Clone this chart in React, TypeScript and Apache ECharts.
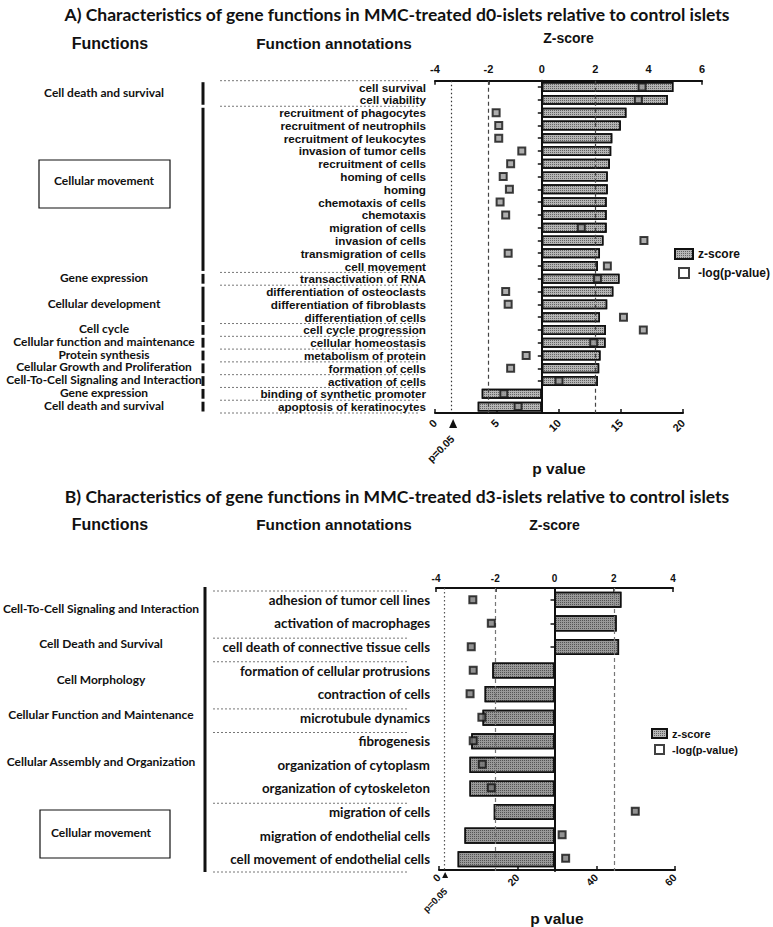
import React, { useEffect, useRef } from 'react';
import * as echarts from 'echarts';

// ---------- Data ----------
const A_CATEGORIES = [
  'cell survival', 'cell viability', 'recruitment of phagocytes', 'recruitment of neutrophils',
  'recruitment of leukocytes', 'invasion of tumor cells', 'recruitment of cells', 'homing of cells',
  'homing', 'chemotaxis of cells', 'chemotaxis', 'migration of cells', 'invasion of cells',
  'transmigration of cells', 'cell movement', 'transactivation of RNA', 'differentiation of osteoclasts',
  'differentiation of fibroblasts', 'differentiation of cells', 'cell cycle progression',
  'cellular homeostasis', 'metabolism of protein', 'formation of cells', 'activation of cells',
  'binding of synthetic promoter', 'apoptosis of keratinocytes',
];
const A_ZSCORE = [
  4.93, 4.72, 3.17, 2.96, 2.64, 2.6, 2.55, 2.47, 2.47, 2.43, 2.43, 2.43, 2.31,
  2.18, 2.1, 2.91, 2.68, 2.45, 2.18, 2.4, 2.39, 2.2, 2.15, 2.1, -2.25, -2.4,
];
const A_LOGP = [
  16.7, 16.4, 4.93, 5.14, 5.14, 7.0, 6.1, 5.5, 6.0, 5.25, 5.7, 11.8, 16.85,
  5.9, 13.9, 13.1, 5.7, 5.9, 15.2, 16.8, 12.8, 7.35, 6.1, 10.0, 5.55, 6.7,
];
const B_CATEGORIES = [
  'adhesion of tumor cell lines', 'activation of macrophages', 'cell death of connective tissue cells',
  'formation of cellular protrusions', 'contraction of cells', 'microtubule dynamics', 'fibrogenesis',
  'organization of cytoplasm', 'organization of cytoskeleton', 'migration of cells',
  'migration of endothelial cells', 'cell movement of endothelial cells',
];
const B_ZSCORE = [2.26, 2.1, 2.18, -2.1, -2.36, -2.43, -2.81, -2.87, -2.87, -2.05, -3.04, -3.27];
const B_LOGP = [8.6, 13.3, 8.2, 8.7, 7.9, 10.9, 8.7, 11.0, 13.3, 49.9, 31.3, 32.2];

const P_THRESHOLD = 1.3; // -log10(0.05)
const Z_GUIDES = [-2, 2];

const A_GROUPS = [
  { label: 'Cell death and survival', start: 0, end: 1 },
  { label: 'Cellular movement', start: 2, end: 14, boxed: true },
  { label: 'Gene expression', start: 15, end: 15 },
  { label: 'Cellular development', start: 16, end: 18 },
  { label: 'Cell cycle', start: 19, end: 19 },
  { label: 'Cellular function and maintenance', start: 20, end: 20 },
  { label: 'Protein synthesis', start: 21, end: 21 },
  { label: 'Cellular Growth and Proliferation', start: 22, end: 22 },
  { label: 'Cell-To-Cell Signaling and Interaction', start: 23, end: 23 },
  { label: 'Gene expression', start: 24, end: 24 },
  { label: 'Cell death and survival', start: 25, end: 25 },
];
const B_GROUPS = [
  { label: 'Cell-To-Cell Signaling and Interaction', start: 0, end: 1 },
  { label: 'Cell Death and Survival', start: 2, end: 2 },
  { label: 'Cell Morphology', start: 3, end: 4 },
  { label: 'Cellular Function and Maintenance', start: 5, end: 5 },
  { label: 'Cellular Assembly and Organization', start: 6, end: 8 },
  { label: 'Cellular movement', start: 9, end: 11, boxed: true },
];

const TITLE_A = 'A) Characteristics of gene functions in MMC-treated d0-islets relative to control islets';
const TITLE_B = 'B) Characteristics of gene functions in MMC-treated d3-islets relative to control islets';

// ---------- Layout ----------
const W = 773;
const H = 927;
const A = { top: 80.7, bottom: 413, left: 435, rightZ: 702, rightP: 683 };
const B = { top: 588, bottom: 871, left: 436, rightZ: 673, leftP: 439, rightP: 675 };

const ARIAL = '"Liberation Sans", Arial, sans-serif';
const CAL = 'Lato, "Open Sans", sans-serif';

function text(
  x: number, y: number, s: string, size: number, family: string,
  weight = 'bold', align = 'center', rotation = 0, scaleX = 1,
) {
  return {
    type: 'text', x, y, rotation, scaleX,
    style: {
      text: s, fontSize: size, fontFamily: family, fontWeight: weight, fill: '#111',
      align, verticalAlign: 'middle', textAlign: align, textVerticalAlign: 'middle',
    },
  };
}

function buildGraphics() {
  const g: any[] = [];
  const dotted = { stroke: '#777', lineWidth: 1, lineDash: [2, 2] };
  // Titles
  g.push(text(397, 14, TITLE_A, 17.5, CAL));
  g.push(text(397, 496, TITLE_B, 17.5, CAL));
  // Headers
  for (const y of [43, 524]) {
    g.push(text(110, y, 'Functions', 16, ARIAL));
    g.push(text(334, y, 'Function annotations', 15.3, ARIAL));
  }
  // Panel A groups
  const aH = (A.bottom - A.top) / A_CATEGORIES.length;
  A_GROUPS.forEach((gr) => {
    const y0 = A.top + gr.start * aH;
    const y1 = A.top + (gr.end + 1) * aH;
    const cy = (y0 + y1) / 2;
    if (gr.boxed) {
      g.push({ type: 'rect', shape: { x: 39, y: 160, width: 131, height: 48 }, style: { fill: 'none', stroke: '#111', lineWidth: 1.2 } });
      g.push(text(104, 180, gr.label, 12, CAL));
    } else {
      g.push(text(104, cy - 1, gr.label, 10.5, CAL, 'bold', 'center', 0, 1.14));
    }
    g.push({ type: 'line', shape: { x1: 203, y1: y0 + 1.5, x2: 203, y2: y1 - 1.5 }, style: { stroke: '#111', lineWidth: 3 } });
    g.push({ type: 'line', shape: { x1: 220, y1: y0, x2: 418, y2: y0 }, style: dotted });
  });
  g.push({ type: 'line', shape: { x1: 220, y1: A.bottom, x2: 418, y2: A.bottom }, style: dotted });
  // Panel B groups
  const bH = (B.bottom - B.top) / B_CATEGORIES.length;
  B_GROUPS.forEach((gr) => {
    const y0 = B.top + gr.start * bH;
    const y1 = B.top + (gr.end + 1) * bH;
    const cy = (y0 + y1) / 2;
    if (gr.boxed) {
      g.push({ type: 'rect', shape: { x: 40, y: 810, width: 130, height: 48 }, style: { fill: 'none', stroke: '#111', lineWidth: 1.2 } });
    }
    g.push(text(101, cy - 3, gr.label, 12, CAL));
    g.push({ type: 'line', shape: { x1: 213, y1: y0 + 3, x2: 407, y2: y0 + 3 }, style: dotted });
  });
  g.push({ type: 'line', shape: { x1: 213, y1: B.bottom + 1, x2: 407, y2: B.bottom + 1 }, style: dotted });
  g.push({ type: 'line', shape: { x1: 205, y1: B.top - 1, x2: 205, y2: B.bottom + 1 }, style: { stroke: '#111', lineWidth: 3 } });

  // p=0.05 markers
  const axP = A.left + (P_THRESHOLD / 20) * (A.rightP - A.left);
  g.push({ type: 'polygon', shape: { points: [[axP + 2, A.bottom + 6], [axP - 2, A.bottom + 15], [axP + 6, A.bottom + 15]] }, style: { fill: '#111' } });
  g.push(text(441, 449, 'p=0.05', 10.5, ARIAL, 'bold', 'center', Math.PI / 4));
  const bxP = B.leftP + (P_THRESHOLD / 60) * (B.rightP - B.leftP);
  g.push({ type: 'polygon', shape: { points: [[bxP + 1, B.bottom + 1], [bxP - 2, B.bottom + 7], [bxP + 4, B.bottom + 7]] }, style: { fill: '#111' } });
  g.push(text(435, 900, 'p=0.05', 9.5, ARIAL, 'bold', 'center', Math.PI / 4));
  return g;
}

const decal = {
  symbol: 'rect', symbolSize: 1, color: 'rgba(0,0,0,0.45)',
  dashArrayX: [1, 1], dashArrayY: [1, 1], rotation: 0,
};
const barStyle = { color: '#b5b5b5', borderColor: '#111', borderWidth: 1.5, decal };
const markerStyle = { color: '#9a9a9a', borderColor: '#111', borderWidth: 2 };

function guideLines(values: number[], type: any, color = '#444', width = 1.2) {
  return values.map((v) => ({ xAxis: v, lineStyle: { type, color, width } }));
}

function buildOption() {
  const axisLine = { show: true, lineStyle: { color: '#111', width: 2 } };
  const tick = (inside: boolean) => ({ show: true, inside, length: 4, lineStyle: { color: '#111', width: 1.5 } });
  const tickLabel = (size: number, extra: any = {}) => ({ fontSize: size, fontWeight: 'bold', fontFamily: ARIAL, color: '#111', ...extra });
  const legendData = [
    { name: 'z-score', icon: 'rect' },
    { name: '-log(p-value)', icon: 'path://M0,0H10V10H0Z', itemStyle: { color: '#fff', borderColor: '#111', borderWidth: 2 } },
  ];
  return {
    animation: false,
    backgroundColor: '#fff',
    graphic: buildGraphics(),
    legend: [
      {
        left: 669, top: 243, orient: 'vertical', itemWidth: 18, itemHeight: 10, itemGap: 7,
        textStyle: { fontSize: 12, fontWeight: 'bold', fontFamily: ARIAL, color: '#111' }, data: legendData,
      },
      {
        left: 646, top: 723, orient: 'vertical', itemWidth: 15, itemHeight: 9, itemGap: 5,
        textStyle: { fontSize: 11, fontWeight: 'bold', fontFamily: ARIAL, color: '#111' }, data: legendData,
      },
    ],
    grid: [
      { left: A.left, top: A.top, width: A.rightZ - A.left, height: A.bottom - A.top },
      { left: A.left, top: A.top, width: A.rightP - A.left, height: A.bottom - A.top },
      { left: B.left, top: B.top, width: B.rightZ - B.left, height: B.bottom - B.top },
      { left: B.leftP, top: B.top, width: B.rightP - B.leftP, height: B.bottom - B.top },
    ],
    xAxis: [
      {
        gridIndex: 0, type: 'value', position: 'top', min: -4, max: 6, interval: 2,
        name: 'Z-score', nameLocation: 'middle', nameGap: 36,
        nameTextStyle: { fontSize: 14, fontWeight: 'bold', fontFamily: ARIAL, color: '#111' },
        axisLine, axisTick: tick(true), splitLine: { show: false }, axisLabel: tickLabel(11, { margin: 6 }),
      },
      {
        gridIndex: 1, type: 'value', position: 'bottom', min: 0, max: 20, interval: 5,
        name: 'p value', nameLocation: 'middle', nameGap: 47,
        nameTextStyle: { fontSize: 15.5, fontWeight: 'bold', fontFamily: ARIAL, color: '#111' },
        axisLine, axisTick: tick(true), splitLine: { show: false }, axisLabel: tickLabel(11, { rotate: 45, margin: 8 }),
      },
      {
        gridIndex: 2, type: 'value', position: 'top', min: -4, max: 4, interval: 2,
        name: 'Z-score', nameLocation: 'middle', nameGap: 56,
        nameTextStyle: { fontSize: 14, fontWeight: 'bold', fontFamily: ARIAL, color: '#111' },
        axisLine, axisTick: tick(true), splitLine: { show: false }, axisLabel: tickLabel(10, { margin: 5 }),
      },
      {
        gridIndex: 3, type: 'value', position: 'bottom', min: 0, max: 60, interval: 20,
        name: 'p value', nameLocation: 'middle', nameGap: 40,
        nameTextStyle: { fontSize: 15.5, fontWeight: 'bold', fontFamily: ARIAL, color: '#111' },
        axisLine, axisTick: tick(true), splitLine: { show: false }, axisLabel: tickLabel(10.5, { rotate: 45, margin: 6 }),
      },
    ],
    yAxis: [
      {
        gridIndex: 0, type: 'category', inverse: true, data: A_CATEGORIES,
        axisLine, axisTick: { show: true, length: 4, alignWithLabel: true, interval: 0, lineStyle: { color: '#111', width: 1.5 } },
        axisLabel: { interval: 0, fontSize: 11.7, fontWeight: 'bold', fontFamily: ARIAL, color: '#111', margin: 9 },
      },
      { gridIndex: 1, type: 'category', inverse: true, data: A_CATEGORIES, show: false },
      {
        gridIndex: 2, type: 'category', inverse: true, data: B_CATEGORIES,
        axisLine, axisTick: { show: true, length: 4, alignWithLabel: true, interval: 0, lineStyle: { color: '#111', width: 1.5 } },
        axisLabel: { interval: 0, fontSize: 13.3, fontWeight: 'bold', fontFamily: CAL, color: '#111', margin: 6 },
      },
      { gridIndex: 3, type: 'category', inverse: true, data: B_CATEGORIES, show: false },
    ],
    series: [
      {
        name: 'z-score', type: 'bar', xAxisIndex: 0, yAxisIndex: 0, data: A_ZSCORE,
        barCategoryGap: '22%', itemStyle: barStyle,
        markLine: {
          silent: true, symbol: 'none', label: { show: false },
          data: [...guideLines(Z_GUIDES, [4, 3]), ...guideLines([0], 'solid', '#111', 1.5)],
        },
      },
      {
        name: '-log(p-value)', type: 'scatter', xAxisIndex: 1, yAxisIndex: 1, z: 5,
        symbol: 'rect', symbolSize: 7, itemStyle: markerStyle,
        data: A_LOGP.map((v, i) => [v, A_CATEGORIES[i]]),
        markLine: {
          silent: true, symbol: 'none', label: { show: false },
          data: guideLines([P_THRESHOLD], [1.5, 2.5], '#333', 1.2),
        },
      },
      {
        name: 'z-score', type: 'bar', xAxisIndex: 2, yAxisIndex: 2, data: B_ZSCORE,
        barCategoryGap: '32%', itemStyle: { ...barStyle, color: '#999' },
        markLine: {
          silent: true, symbol: 'none', label: { show: false },
          data: [...guideLines(Z_GUIDES, [4, 3], '#777'), ...guideLines([0], 'solid', '#111', 1.5)],
        },
      },
      {
        name: '-log(p-value)', type: 'scatter', xAxisIndex: 3, yAxisIndex: 3, z: 5,
        symbol: 'rect', symbolSize: 7, itemStyle: { ...markerStyle, color: '#777' },
        data: B_LOGP.map((v, i) => [v, B_CATEGORIES[i]]),
        markLine: {
          silent: true, symbol: 'none', label: { show: false },
          data: guideLines([P_THRESHOLD], [1.5, 2.5], '#555', 1.2),
        },
      },
    ],
  };
}

export default function App() {
  const ref = useRef<HTMLDivElement>(null);
  useEffect(() => {
    if (!ref.current) return;
    const chart = echarts.init(ref.current, undefined, { renderer: 'svg', width: W, height: H });
    chart.setOption(buildOption() as any);
    return () => chart.dispose();
  }, []);
  return (
    <div
      ref={ref}
      style={{ position: 'absolute', left: 0, top: 0, width: W, height: H, background: '#fff' }}
    />
  );
}
